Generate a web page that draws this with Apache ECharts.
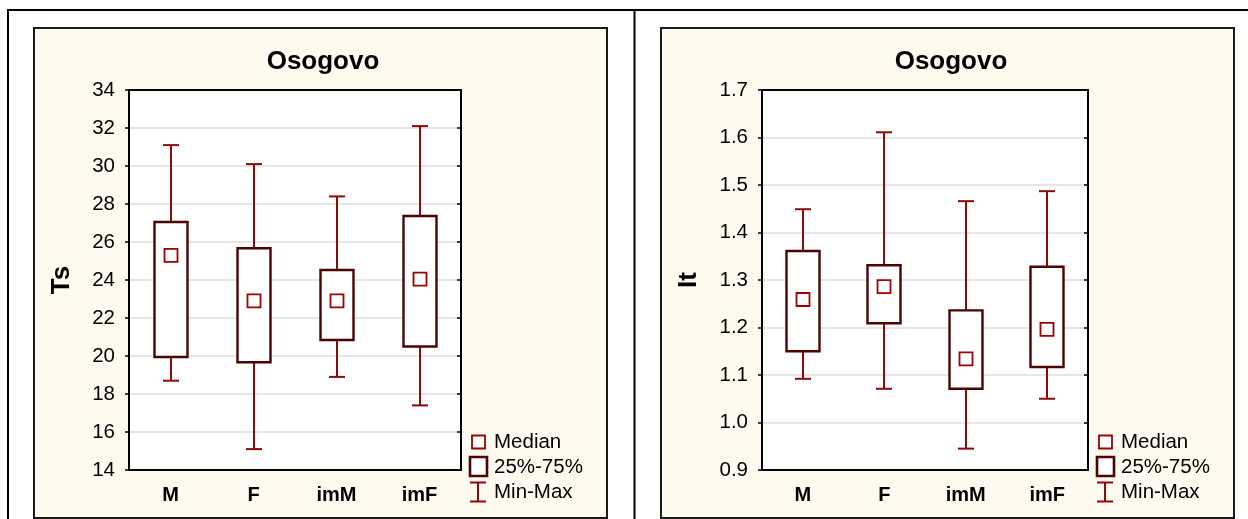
<!DOCTYPE html>
<html>
<head>
<meta charset="utf-8">
<script src="https://cdn.jsdelivr.net/npm/echarts@6/dist/echarts.min.js"></script>
<style>
html,body{margin:0;padding:0;background:#fff;}
#chart{width:1248px;height:519px;}
</style>
</head>
<body>
<div id="chart"></div>
<script>
// ---- Data ----
const categories = ['M', 'F', 'imM', 'imF'];
const chartTitles = ['Osogovo', 'Osogovo'];
const yNames = ['Ts', 'It'];
const legendLabels = ['Median', '25%-75%', 'Min-Max'];

// Ts (left panel)
const tsMin    = [18.7, 15.1, 18.9, 17.4];
const tsQ1     = [19.95, 19.67, 20.84, 20.5];
const tsMedian = [25.3, 22.9, 22.9, 24.05];
const tsQ3     = [27.05, 25.67, 24.53, 27.37];
const tsMax    = [31.1, 30.1, 28.4, 32.1];

// It (right panel)
const itMin    = [1.092, 1.071, 0.945, 1.050];
const itQ1     = [1.150, 1.209, 1.071, 1.117];
const itMedian = [1.259, 1.286, 1.134, 1.196];
const itQ3     = [1.361, 1.331, 1.236, 1.328];
const itMax    = [1.449, 1.611, 1.466, 1.487];

// ---- Styles ----
const FONT = 'Arial, "Liberation Sans", sans-serif';
const C_WHISK = '#8c0a0a';
const C_MED = '#a00000';
const C_BOX = '#4b0303';
const BEIGE = '#fffaef';

function rows(mn, q1, md, q3, mx) {
  return categories.map((c, i) => [i, mn[i], q1[i], md[i], q3[i], mx[i]]);
}

function renderBox(params, api) {
  const i = api.value(0);
  const pMin = api.coord([i, api.value(1)]);
  const pQ1 = api.coord([i, api.value(2)]);
  const pMed = api.coord([i, api.value(3)]);
  const pQ3 = api.coord([i, api.value(4)]);
  const pMax = api.coord([i, api.value(5)]);
  const x = Math.round(pMed[0]);
  const bw = 16.5, cw = 8, mw = 6.5;
  const ws = {stroke: C_WHISK, lineWidth: 2};
  return {
    type: 'group',
    children: [
      {type: 'line', shape: {x1: x, y1: pMin[1], x2: x, y2: pQ1[1]}, style: ws},
      {type: 'line', shape: {x1: x, y1: pQ3[1], x2: x, y2: pMax[1]}, style: ws},
      {type: 'line', shape: {x1: x - cw, y1: pMin[1], x2: x + cw, y2: pMin[1]}, style: ws},
      {type: 'line', shape: {x1: x - cw, y1: pMax[1], x2: x + cw, y2: pMax[1]}, style: ws},
      {type: 'rect', shape: {x: x - bw, y: pQ3[1], width: 2 * bw, height: pQ1[1] - pQ3[1]},
        style: {fill: '#fff', stroke: C_BOX, lineWidth: 2.4}},
      {type: 'rect', shape: {x: x - mw, y: pMed[1] - mw, width: 2 * mw, height: 2 * mw},
        style: {fill: '#fff', stroke: C_MED, lineWidth: 1.8}}
    ]
  };
}

function legendGroup(x0) {
  const tx = x0 + 24;
  const tStyle = {fill: '#000', font: '20.5px ' + FONT, textVerticalAlign: 'middle'};
  return {
    type: 'group', silent: true,
    children: [
      {type: 'rect', shape: {x: x0 + 2, y: 435.5, width: 13, height: 13}, style: {fill: '#fff', stroke: C_MED, lineWidth: 1.8}},
      {type: 'text', x: tx, y: 442, style: Object.assign({text: legendLabels[0]}, tStyle)},
      {type: 'rect', shape: {x: x0, y: 457, width: 17, height: 19}, style: {fill: '#fff', stroke: C_BOX, lineWidth: 2.6}},
      {type: 'text', x: tx, y: 467, style: Object.assign({text: legendLabels[1]}, tStyle)},
      {type: 'line', shape: {x1: x0, y1: 482.5, x2: x0 + 16, y2: 482.5}, style: {stroke: C_WHISK, lineWidth: 2}},
      {type: 'line', shape: {x1: x0 + 8, y1: 482.5, x2: x0 + 8, y2: 501.5}, style: {stroke: C_WHISK, lineWidth: 2}},
      {type: 'line', shape: {x1: x0, y1: 501.5, x2: x0 + 16, y2: 501.5}, style: {stroke: C_WHISK, lineWidth: 2}},
      {type: 'text', x: tx, y: 492, style: Object.assign({text: legendLabels[2]}, tStyle)}
    ]
  };
}

const grids = [
  {left: 129, top: 90, width: 332, height: 380},
  {left: 762, top: 90, width: 326, height: 380}
];
const yRanges = [{min: 14, max: 34, interval: 2, fmt: v => String(v)},
                 {min: 0.9, max: 1.7, interval: 0.1, fmt: v => v.toFixed(1)}];

const xAxes = [], yAxes = [];
grids.forEach((g, k) => {
  xAxes.push({
    type: 'category', gridIndex: k, data: categories, position: 'bottom',
    boundaryGap: true,
    axisLine: {lineStyle: {color: '#000', width: 2}},
    axisTick: {alignWithLabel: true, inside: true, length: 5, lineStyle: {color: '#000', width: 1.5}},
    axisLabel: {color: '#000', fontFamily: FONT, fontSize: 20, fontWeight: 'bold', margin: 15},
    splitLine: {show: false}
  });
  xAxes.push({
    type: 'category', gridIndex: k, data: categories, position: 'top',
    boundaryGap: true,
    axisLine: {lineStyle: {color: '#000', width: 2}},
    axisTick: {alignWithLabel: true, inside: true, length: 5, lineStyle: {color: '#000', width: 1.5}},
    axisLabel: {show: false},
    splitLine: {show: false}
  });
  const r = yRanges[k];
  yAxes.push({
    type: 'value', gridIndex: k, position: 'left', min: r.min, max: r.max, interval: r.interval,
    name: yNames[k], nameLocation: 'middle', nameRotate: 90, nameGap: k === 0 ? 54 : 60,
    nameTextStyle: {color: '#000', fontFamily: FONT, fontSize: 26, fontWeight: 'bold'},
    axisLine: {show: true, lineStyle: {color: '#000', width: 2}},
    axisTick: {show: true, length: 4, lineStyle: {color: '#000', width: 1.5}},
    axisLabel: {color: '#000', fontFamily: FONT, fontSize: 20.5, margin: 14, formatter: r.fmt},
    splitLine: {show: true, lineStyle: {color: '#e6e6e6', width: 2}}
  });
  yAxes.push({
    type: 'value', gridIndex: k, position: 'right', min: r.min, max: r.max, interval: r.interval,
    axisLine: {show: true, lineStyle: {color: '#000', width: 2}},
    axisTick: {show: true, inside: true, length: 4, lineStyle: {color: '#000', width: 1.5}},
    axisLabel: {show: false},
    splitLine: {show: false}
  });
});

const option = {
  animation: false,
  backgroundColor: '#fff',
  title: [
    {text: chartTitles[0], left: 318, top: 44, textAlign: 'center',
      textStyle: {color: '#000', fontFamily: FONT, fontSize: 26, fontWeight: 'bold'}},
    {text: chartTitles[1], left: 946, top: 44, textAlign: 'center',
      textStyle: {color: '#000', fontFamily: FONT, fontSize: 26, fontWeight: 'bold'}}
  ],
  grid: grids.map(g => Object.assign({containLabel: false, show: true, backgroundColor: '#fff', borderWidth: 0}, g)),
  xAxis: xAxes,
  yAxis: yAxes,
  graphic: [
    // background panels & frame
    {type: 'rect', z: -10, silent: true, shape: {x: 34, y: 28, width: 573, height: 490},
      style: {fill: BEIGE, stroke: '#1a1a1a', lineWidth: 2}},
    {type: 'rect', z: -10, silent: true, shape: {x: 661, y: 28, width: 573, height: 490},
      style: {fill: BEIGE, stroke: '#1a1a1a', lineWidth: 2}},
    {type: 'line', z: -10, silent: true, shape: {x1: 7, y1: 10, x2: 1248, y2: 10}, style: {stroke: '#000', lineWidth: 2}},
    {type: 'line', z: -10, silent: true, shape: {x1: 8, y1: 10, x2: 8, y2: 519}, style: {stroke: '#000', lineWidth: 2}},
    {type: 'line', z: -10, silent: true, shape: {x1: 634.5, y1: 10, x2: 634.5, y2: 519}, style: {stroke: '#000', lineWidth: 2}},
    legendGroup(470),
    legendGroup(1097)
  ],
  series: [
    {type: 'custom', xAxisIndex: 0, yAxisIndex: 0, renderItem: renderBox,
      encode: {x: 0, y: [1, 2, 3, 4, 5]}, data: rows(tsMin, tsQ1, tsMedian, tsQ3, tsMax), z: 5},
    {type: 'custom', xAxisIndex: 2, yAxisIndex: 2, renderItem: renderBox,
      encode: {x: 0, y: [1, 2, 3, 4, 5]}, data: rows(itMin, itQ1, itMedian, itQ3, itMax), z: 5}
  ]
};

const chart = echarts.init(document.getElementById('chart'), null, {renderer: 'canvas'});
chart.setOption(option);
</script>
</body>
</html>
